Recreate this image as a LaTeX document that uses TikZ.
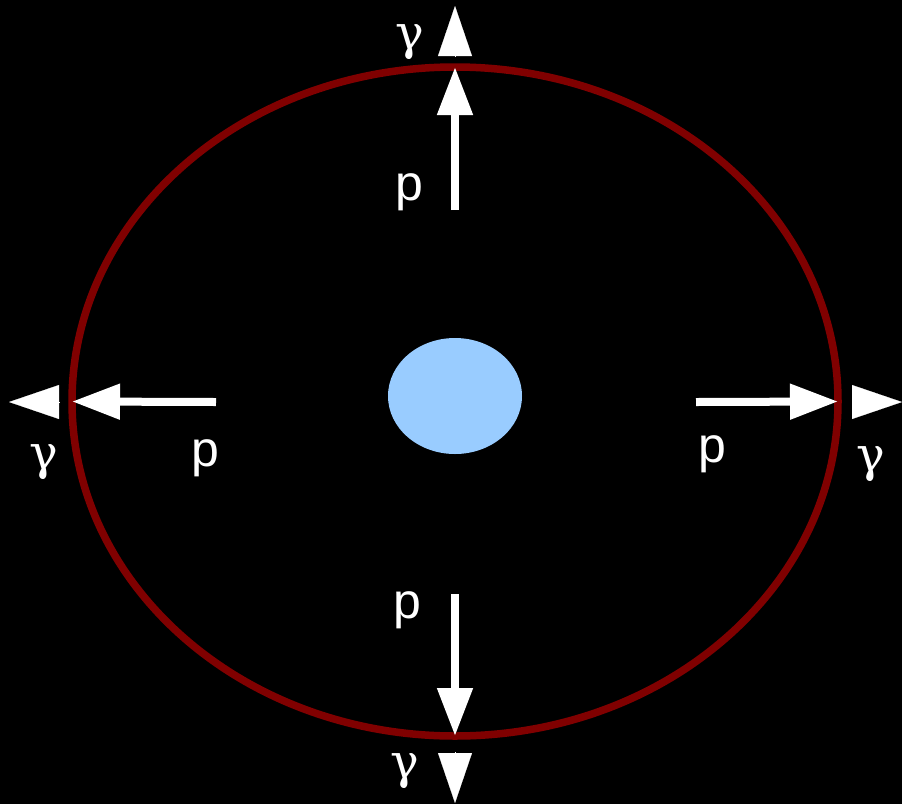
\documentclass[tikz,border=0pt]{standalone}
\usepackage{fontspec}
\setsansfont{Liberation Sans}
\newfontfamily\greekfont{DejaVu Serif}
\usetikzlibrary{shapes.geometric, arrows.meta, positioning}
\definecolor{ringred}{RGB}{128, 0, 0}
\definecolor{corecolor}{RGB}{153, 204, 255}

\begin{document}
\begin{tikzpicture}[
  x=1pt, y=-1pt,
  ring/.style={ellipse, draw=ringred, line width=7.5pt, inner sep=0pt, outer sep=0pt, minimum width=766pt, minimum height=669pt},
  core/.style={ellipse, fill=corecolor, inner sep=0pt, minimum width=134pt, minimum height=116pt},
  momentum/.style={-{Triangle[length=48pt, width=34pt]}, line width=8pt, white},
  photon/.style={-{Triangle[length=50pt, width=34pt]}, line width=0.2pt, white},
  plabel/.style={text=white, inner sep=0pt, font=\fontsize{50}{60}\selectfont\sffamily},
  glabel/.style={text=white, inner sep=0pt, font=\fontsize{48}{58}\selectfont\greekfont}
]
  % Background
  \fill[black] (0,0) rectangle (902,804);
  \useasboundingbox (0,0) rectangle (902,804);

  % Nodes
  \node[ring] (shell) at (455,401.5) {};
  \node[core] (core) at (455,396) {};

  \coordinate (ptop) at (455,210);
  \coordinate (pleft) at (216,402);
  \coordinate (pright) at (696,402);
  \coordinate (pbottom) at (455,594);

  \coordinate (gtopbase) at (455,56);
  \coordinate (gtoptip) at (455,6);
  \coordinate (gleftbase) at (60,402);
  \coordinate (glefttip) at (9,402);
  \coordinate (grightbase) at (852,402);
  \coordinate (grighttip) at (902,402);
  \coordinate (gbottombase) at (455,752);
  \coordinate (gbottomtip) at (455,803);

  % Labels
  \node[plabel] (ptoplabel) at (409,192) {p};
  \node[plabel] (pleftlabel) at (205,458) {p};
  \node[plabel] (prightlabel) at (712,454) {p};
  \node[plabel] (pbottomlabel) at (407,610) {p};
  \node[glabel] (gtoplabel) at (410,42) {γ};
  \node[glabel] (gleftlabel) at (44,462) {γ};
  \node[glabel] (grightlabel) at (871,464) {γ};
  \node[glabel] (gbottomlabel) at (405,771) {γ};

  % Paths
  \draw[momentum] (ptop) -- (shell.north);
  \draw[momentum] (pleft) -- (shell.west);
  \draw[momentum] (pright) -- (shell.east);
  \draw[momentum] (pbottom) -- (shell.south);

  \draw[photon] (gtopbase) -- (gtoptip);
  \draw[photon] (gleftbase) -- (glefttip);
  \draw[photon] (grightbase) -- (grighttip);
  \draw[photon] (gbottombase) -- (gbottomtip);
\end{tikzpicture}
\end{document}
